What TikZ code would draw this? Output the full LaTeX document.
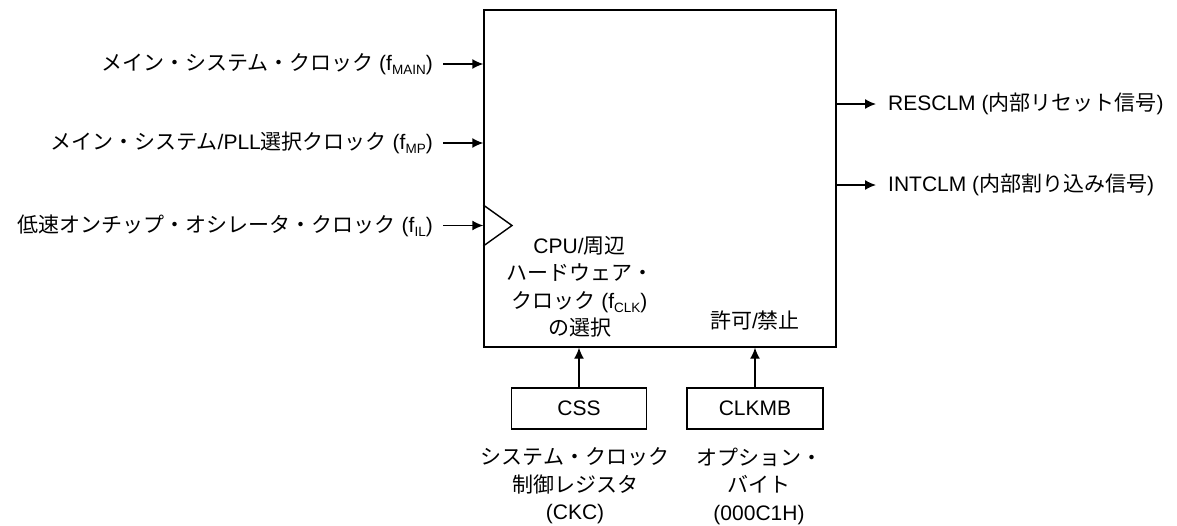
\documentclass[tikz,border=0pt]{standalone}
\usepackage{fontspec}
\setmainfont{Liberation Sans}
\newfontfamily\jp{Noto Sans CJK JP}
\usetikzlibrary{arrows.meta}
\newcommand{\J}[1]{{\jp #1}}
\newcommand{\sbs}[1]{\raisebox{-4pt}{\fontsize{13.5}{14}\selectfont #1}}
\begin{document}
\begin{tikzpicture}[x=1pt,y=-1pt,
  lbl/.style={font=\fontsize{21}{27.5}\selectfont, inner sep=0pt},
  box/.style={draw, line width=1.4pt, inner sep=0pt},
  arr/.style={-{Latex[length=11pt,width=10pt]}, line width=1.4pt}]
\useasboundingbox (0,0) rectangle (1177,525);
% main block
\node[box, minimum width=352pt, minimum height=337pt] (blk) at (660,178.5) {};
\draw[line width=1.4pt] (blk.west |- 0,205) -- (512,225.5) -- (blk.west |- 0,246);
% inputs
\node[lbl, anchor=east] (i1) at (433,64) {\J{メイン・システム・クロック} (f\sbs{MAIN})};
\node[lbl, anchor=east] (i2) at (433,143) {\J{メイン・システム}/PLL\J{選択クロック} (f\sbs{MP})};
\node[lbl, anchor=east] (i3) at (433,225.5) {\J{低速オンチップ・オシレータ・クロック} (f\sbs{IL})};
\coordinate (s1) at (443,64);
\coordinate (s2) at (443,143);
\coordinate (s3) at (443,225.5);
\draw[arr] (s1) -- (s1 -| blk.west);
\draw[arr] (s2) -- (s2 -| blk.west);
\draw[arr] (s3) -- (s3 -| blk.west);
% outputs
\node[lbl, anchor=west] (o1) at (888,104) {RESCLM (\J{内部リセット信号})};
\node[lbl, anchor=west] (o2) at (888,185) {INTCLM (\J{内部割り込み信号})};
\coordinate (e1) at ([xshift=-12pt]o1.west);
\coordinate (e2) at ([xshift=-12pt]o2.west);
\draw[arr] (e1 -| blk.east) -- (e1);
\draw[arr] (e2 -| blk.east) -- (e2);
% inner labels
\node[lbl, align=center] (sel) at (579.5,287) {CPU/\J{周辺}\\\J{ハードウェア・}\\\J{クロック} (f\sbs{CLK})\\\J{の選択}};
\node[lbl] (en) at (755,321) {\J{許可}/\J{禁止}};
% registers
\node[box, minimum width=135pt, minimum height=41pt, font=\fontsize{21}{22}\selectfont] (css) at (579,408.5) {CSS};
\node[box, minimum width=136pt, minimum height=41pt, font=\fontsize{21}{22}\selectfont] (clk) at (755,408.5) {CLKMB};
\draw[arr] (css.north) -- (css.north |- blk.south);
\draw[arr] (clk.north) -- (clk.north |- blk.south);
\node[lbl, align=center] (cssl) at (575,486) {\J{システム・クロック}\\\J{制御レジスタ}\\(CKC)};
\node[lbl, align=center] (clkl) at (759,486) {\J{オプション・}\\\J{バイト}\\(000C1H)};
\end{tikzpicture}
\end{document}
